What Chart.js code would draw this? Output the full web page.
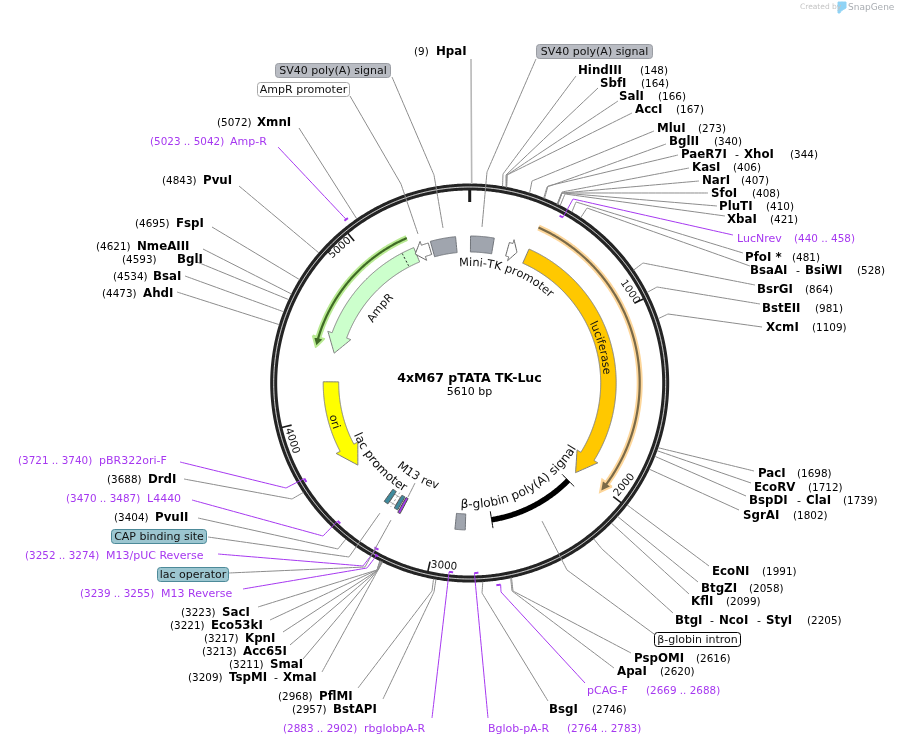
<!DOCTYPE html>
<html>
<head>
<meta charset="utf-8">
<script src="https://cdn.jsdelivr.net/npm/chart.js@4"></script>
<style>
html, body { margin: 0; padding: 0; background: #fff; }
canvas { display: block; }
</style>
</head>
<body>
<canvas id="map" width="897" height="745"></canvas>
<script>
const plasmidName = "4xM67 pTATA TK-Luc";
const plasmidLength = 5610;
const rulerTicks = [1000, 2000, 3000, 4000, 5000];

const enzymeNames = ["HpaI", "HindIII", "SbfI", "SalI", "AccI", "MluI", "BglII", "PaeR7I - XhoI", "KasI", "NarI", "SfoI", "PluTI", "XbaI", "PfoI *", "BsaAI - BsiWI", "BsrGI", "BstEII", "XcmI", "PacI", "EcoRV", "BspDI - ClaI", "SgrAI", "EcoNI", "BtgZI", "KflI", "BtgI - NcoI - StyI", "PspOMI", "ApaI", "BsgI", "BstAPI", "PflMI", "TspMI - XmaI", "SmaI", "Acc65I", "KpnI", "Eco53kI", "SacI", "PvuII", "DrdI", "AhdI", "BsaI", "BglI", "NmeAIII", "FspI", "PvuI", "XmnI"];
const enzymeSites = [9, 148, 164, 166, 167, 273, 340, 344, 406, 407, 408, 410, 421, 481, 528, 864, 981, 1109, 1698, 1712, 1739, 1802, 1991, 2058, 2099, 2205, 2616, 2620, 2746, 2957, 2968, 3209, 3211, 3213, 3217, 3221, 3223, 3404, 3688, 4473, 4534, 4593, 4621, 4695, 4843, 5072];

const primerNames = ["LucNrev", "pCAG-F", "Bglob-pA-R", "rbglobpA-R", "M13 Reverse", "M13/pUC Reverse", "L4440", "pBR322ori-F", "Amp-R"];
const primerStarts = [440, 2669, 2764, 2883, 3239, 3252, 3470, 3721, 5023];
const primerEnds = [458, 2688, 2783, 2902, 3255, 3274, 3487, 3740, 5042];

const arrowNames = ["luciferase", "AmpR", "ori"];
const arrowStarts = [372, 5260, 4215];
const arrowHeads = [1900, 4520, 3774];
const arrowTips = [2030, 4401, 3642];

const blockNames = ["Mini-TK promoter", "SV40 poly(A) signal", "β-globin poly(A) signal"];
const blockStarts = [5, 5368, 2832];
const blockEnds = [150, 5524, 2895];

const boxNames = ["SV40 poly(A) signal", "SV40 poly(A) signal", "AmpR promoter", "β-globin intron", "CAP binding site", "lac operator"];

// layout only: pixels on the 897x745 page
const CX = 469.7, CY = 383, RING_R = 196, LEADER_R = 199;
const GRAY = "#8c8c8c", PURPLE = "#a638f0", BLACK = "#000";
const FONT = '"DejaVu Sans", Verdana, sans-serif';

// [name x (or x of each name), site x, text y, leader start x, y, elbow x, y]
const enzymeLayout = [
  [436, 414, 51, 471, 59, null, null],
  [578, 640, 70, 576, 76, 503, 174],
  [600, 641, 83, 598, 88, 506, 175],
  [619, 658, 96, 618, 101, 507, 175],
  [635, 676, 109, 632, 113, 507, 175],
  [657, 698, 128, 654, 131, 532, 181],
  [669, 714, 141, 666, 144, 547, 187],
  [[681, 735], 790, 154, 678, 155, 548, 186],
  [692, 733, 167, 689, 168, 562, 192],
  [702, 741, 180, 699, 181, 562, 193],
  [711, 752, 193, 708, 193, 562, 193],
  [719, 766, 206, 717, 206, 562, 193],
  [727, 770, 219, 725, 216, 565, 194],
  [745, 792, 257, 743, 253, 576, 202],
  [[750, 796], 857, 270, 750, 266, 587, 208],
  [757, 805, 289, 755, 285, 643, 263],
  [762, 815, 308, 760, 304, 657, 287],
  [766, 812, 327, 762, 327, 668, 314],
  [758, 797, 473, 754, 471, null, null],
  [754, 808, 487, 751, 483, null, null],
  [[749, 797], 843, 500, 746, 496, null, null],
  [743, 793, 515, 739, 510, null, null],
  [712, 762, 571, 709, 566, null, null],
  [701, 749, 588, 698, 582, null, null],
  [691, 726, 601, 689, 594, null, null],
  [[675, 710, 757], 807, 620, 673, 613, 602, 549],
  [634, 696, 658, 631, 653, 513, 591],
  [617, 660, 671, 614, 668, 512, 591],
  [549, 592, 709, 548, 701, 482, 593],
  [333, 292, 709, 383, 699, 434, 592],
  [319, 278, 696, 358, 688, 432, 591],
  [[229, 274], 188, 677, 322, 672, 378, 570],
  [270, 229, 664, 303, 659, 378, 570],
  [243, 202, 651, 290, 645, 378, 570],
  [245, 204, 638, 283, 632, 378, 570],
  [211, 170, 625, 270, 620, 377, 570],
  [222, 181, 612, 258, 607, 377, 570],
  [155, 114, 517, 198, 518, 338, 549],
  [148, 107, 479, 184, 479, 292, 499],
  [143, 102, 293, 177, 292, null, null],
  [153, 113, 276, 185, 276, null, null],
  [177, 122, 259, 197, 262, null, null],
  [137, 96, 246, 203, 249, null, null],
  [176, 135, 223, 212, 227, null, null],
  [203, 162, 180, 239, 186, null, null],
  [257, 217, 122, 299, 128, null, null],
];

// [name x, range x, text y, leader start x, y, elbow x, y, mark radius, where the leader meets the mark 0..1]
const primerLayout = [
  [737, 794, 238, 733, 235, 573, 199, 190, 1],
  [587, 646, 690, 585, 683, 501, 592, 204, 0],
  [488, 567, 728, 488, 718, null, null, 190, 1],
  [364, 283, 728, 432, 718, null, null, 190, 1],
  [161, 80, 593, 243, 589, 367, 568, 196, 0.5],
  [106, 25, 555, 218, 554, 363, 566, 190, 0.5],
  [147, 66, 498, 192, 500, 323, 536, 191, 1],
  [99, 18, 460, 180, 462, 286, 488, 191, 1],
  [230, 150, 141, 278, 147, null, null, 205, 0.5],
];

// [left, right, y, fill, border, leader points]
const boxLayout = [
  [536, 652, 51, "#b9bcc3", "#9a9da3", [[536, 59], [487, 172], [482, 227]]],
  [275, 390, 70, "#b9bcc3", "#9a9da3", [[392, 77], [434, 175], [443, 228]]],
  [257, 349, 89, "#ffffff", "#a8a8a8", [[350, 96], [401, 184], [418, 234]]],
  [654, 740, 639, "#ffffff", "#000000", [[654, 634], [567, 570], [542, 521]]],
  [111, 206, 536, "#9cc6d0", "#4d8a99", [[208, 537], [349, 557], [380, 513]]],
  [157, 228, 574, "#9cc6d0", "#4d8a99", [[229, 573], [365, 567], [391, 520]]],
];

// [text, centre angle in bp, baseline radius, clockwise, font px]
const curvedLabels = [
  ["Mini-TK promoter", 291, 117, true, 11.4],
  ["luciferase", 1169, 134, true, 11],
  ["AmpR", 4831, 114, true, 11],
  ["β-globin poly(A) signal", 2381, 125, false, 12.2],
  ["ori", 3958, 144, false, 11],
  ["lac promoter", 3562, 127, false, 12],
  ["M13 rev", 3257, 111, false, 11.5],
];

// [x, y, rotation in degrees] of the ruler numbers
const rulerLayout = [[630, 292, 56], [624.5, 485, -50], [444, 566, 5], [292, 441, 72], [340, 248, -42]];

function polar(bp, r) {
  const a = (bp / plasmidLength) * 2 * Math.PI;
  return { x: CX + r * Math.sin(a), y: CY - r * Math.cos(a) };
}

function arc(from, to, r) {
  const n = Math.max(2, Math.ceil(Math.abs(to - from) / 12));
  const pts = [];
  for (let i = 0; i <= n; i++) pts.push(polar(from + ((to - from) * i) / n, r));
  return pts;
}

const datasets = [];

// tiny tension keeps Chart.js off its per-pixel fast path, which breaks near-vertical curves
function addLine(data, color, width, extra) {
  datasets.push(Object.assign({ data, borderColor: color, borderWidth: width, showLine: true, pointRadius: 0, tension: 0.0001, fill: false }, extra));
}

function addShape(points, fillColor, border, width) {
  addLine(points.concat([points[0]]), border, width, { fill: "shape", backgroundColor: fillColor, borderJoinStyle: "miter" });
}

function band(from, to, r1, r2) {
  return arc(from, to, r2).concat(arc(to, from, r1));
}

function arrow(start, head, tip, r1, r2, flare) {
  return arc(start, head, r2)
    .concat([polar(head, r2 + flare), polar(tip, (r1 + r2) / 2), polar(head, r1 - flare)])
    .concat(arc(head, start, r1));
}

function xy(p) {
  return { x: p[0], y: p[1] };
}

function addLeader(startX, startY, elbowX, elbowY, end, color, width) {
  const pts = [{ x: startX, y: startY }];
  if (elbowX !== null) pts.push({ x: elbowX, y: elbowY });
  pts.push(end);
  addLine(pts, color, width);
}

// outer ring
const fullCircle = arc(0, plasmidLength, RING_R);
addLine(fullCircle, "#242424", 7);
addLine(fullCircle, "#ffffff", 0.9);
addLine([polar(0, 193), polar(0, 181)], "#1a1a1a", 3);
rulerTicks.forEach((t) => addLine([polar(t, 193), polar(t, 183)], "#1a1a1a", 1.6));

// translated-style thin arcs above the big arrows
addLine(arc(372, 1985, 170), "#fdd69a", 6);
addShape([polar(1965, 176), polar(2025, 170), polar(1965, 164)], "#7a6a48", "#fdd69a", 2);
addLine(arc(372, 1975, 170), "#7a6a48", 2.2);
addLine(arc(5244, 4450, 158), "#b9ea93", 6);
addShape([polar(4470, 164), polar(4412, 158), polar(4470, 152)], "#3f6b25", "#b9ea93", 2);
addLine(arc(5244, 4460, 158), "#3f6b25", 2.2);

// big arrows
const arrowFills = ["#ffc800", "#ccffcc", "#ffff00"];
arrowNames.forEach((name, i) => {
  addShape(arrow(arrowStarts[i], arrowHeads[i], arrowTips[i], 131, 146.5, 4.5), arrowFills[i], "#7f7f7f", 1);
});
addLine([polar(5181, 132), polar(5181, 146)], "#222", 1, { borderDash: [2, 2] });

// small white arrows
addShape(arrow(5353, 5309, 5253, 134, 146, 4), "#ffffff", "#666", 1);
addShape(arrow(246, 268, 310, 132, 146, 4), "#ffffff", "#666", 1);

// grey blocks
blockNames.forEach((name, i) => {
  addShape(band(blockStarts[i], blockEnds[i], 131, 147), "#a0a5ae", "#70747a", 1);
});

// beta-globin poly(A) black arc and its end bars
addLine(arc(2099, 2663, 138.5), "#000", 5.5);
addLine([polar(2099, 130), polar(2099, 147)], "#000", 1);
addLine([polar(2663, 130), polar(2663, 147)], "#000", 1);

// lac region
addShape(band(3292, 3335, 134, 143), "#ffffff", "#999", 1);
addLine([polar(3312, 130), polar(3312, 147)], "#999", 1, { borderDash: [2, 2] });
addShape(band(3336, 3364, 131, 146), "#3f8a9c", "#555", 1);
addShape(band(3266, 3290, 131, 146), "#3f8a9c", "#555", 1);
addShape(band(3242, 3258, 131, 148), "#a638f0", "#444", 1);
addLine([{ x: 415, y: 483 }, { x: 408, y: 497 }], GRAY, 1);

// restriction site leaders
enzymeNames.forEach((name, i) => {
  const lay = enzymeLayout[i];
  const isHpa = name === "HpaI";
  addLeader(lay[3], lay[4], lay[5], lay[6], polar(enzymeSites[i], LEADER_R), isHpa ? "#b8b8b8" : GRAY, isHpa ? 1.6 : 1);
});

// primer leaders and marks
primerNames.forEach((name, i) => {
  const lay = primerLayout[i];
  const r = lay[7];
  const meet = primerStarts[i] + (primerEnds[i] - primerStarts[i]) * lay[8];
  addLeader(lay[3], lay[4], lay[5], lay[6], polar(meet, r), PURPLE, 1);
  addLine(arc(primerStarts[i], primerEnds[i], r), PURPLE, 2);
});

// boxed label leaders
boxLayout.forEach((lay) => addLine(lay[5].map(xy), GRAY, 1));

// SnapGene mark
addShape([{ x: 838, y: 2 }, { x: 846, y: 2 }, { x: 846, y: 8 }, { x: 841, y: 11 }, { x: 840, y: 13 }, { x: 838, y: 13 }], "#8fd3f5", "#8fd3f5", 1);

function drawCurved(ctx, text, bp, r, clockwise, toX, toY) {
  ctx.textAlign = "center";
  ctx.textBaseline = "alphabetic";
  const total = ctx.measureText(text).width;
  const centre = (bp / plasmidLength) * 2 * Math.PI;
  let run = -total / 2;
  for (const ch of text) {
    const w = ctx.measureText(ch).width;
    const off = (run + w / 2) / r;
    const a = clockwise ? centre + off : centre - off;
    ctx.save();
    ctx.translate(toX(CX + r * Math.sin(a)), toY(CY - r * Math.cos(a)));
    ctx.rotate(clockwise ? a : a + Math.PI);
    ctx.fillText(ch, 0, 0);
    ctx.restore();
    run += w;
  }
}

const textPlugin = {
  id: "mapText",
  afterDatasetsDraw(chart) {
    const ctx = chart.ctx;
    const toX = (v) => chart.scales.x.getPixelForValue(v);
    const toY = (v) => chart.scales.y.getPixelForValue(v);
    const regular = "11px " + FONT;
    const numbers = "10.4px " + FONT;
    const bold = "bold 11.8px " + FONT;

    const put = (text, x, y, font, color, align) => {
      ctx.font = font;
      ctx.fillStyle = color;
      ctx.textAlign = align || "left";
      ctx.textBaseline = "middle";
      ctx.fillText(text, toX(x), toY(y + 1));
    };

    ctx.save();
    put(plasmidName, 469.5, 378, "bold 12.5px " + FONT, "#000", "center");
    put(plasmidLength + " bp", 469.5, 391, regular, "#000", "center");

    enzymeNames.forEach((name, i) => {
      const lay = enzymeLayout[i];
      const parts = name.split(" - ");
      const xs = Array.isArray(lay[0]) ? lay[0] : [lay[0]];
      parts.forEach((part, k) => {
        if (k === 0) {
          put(part, xs[k], lay[2], bold, BLACK);
        } else {
          put("-", xs[k], lay[2], regular, BLACK);
          put(part, xs[k] + 9, lay[2], bold, BLACK);
        }
      });
      put("(" + enzymeSites[i] + ")", lay[1], lay[2], numbers, BLACK);
    });

    primerNames.forEach((name, i) => {
      const lay = primerLayout[i];
      put(name, lay[0], lay[2], regular, PURPLE);
      put("(" + primerStarts[i] + " .. " + primerEnds[i] + ")", lay[1], lay[2], numbers, PURPLE);
    });

    boxNames.forEach((name, i) => {
      const lay = boxLayout[i];
      ctx.beginPath();
      ctx.roundRect(toX(lay[0]) + 0.5, toY(lay[2] - 7) + 0.5, lay[1] - lay[0], 14, 3);
      ctx.fillStyle = lay[3];
      ctx.fill();
      ctx.strokeStyle = lay[4];
      ctx.lineWidth = 1;
      ctx.stroke();
      put(name, (lay[0] + lay[1]) / 2 + 0.5, lay[2], regular, "#111", "center");
    });

    ctx.fillStyle = "#111";
    curvedLabels.forEach((c) => {
      ctx.font = c[4] + "px " + FONT;
      drawCurved(ctx, c[0], c[1], c[2], c[3], toX, toY);
    });

    rulerTicks.forEach((t, i) => {
      const lay = rulerLayout[i];
      ctx.save();
      ctx.translate(toX(lay[0]), toY(lay[1]));
      ctx.rotate((lay[2] * Math.PI) / 180);
      ctx.font = numbers;
      ctx.fillStyle = "#111";
      ctx.textAlign = "center";
      ctx.textBaseline = "middle";
      ctx.fillText(String(t), 0, 0);
      ctx.restore();
    });

    put("Created by", 800, 6.5, "7.5px " + FONT, "#c4c4c4");
    put("SnapGene", 848, 6.5, "9px " + FONT, "#a9adb2");
    ctx.restore();
  },
};

// the first dataset is painted last, so flip to keep painter's order
new Chart(document.getElementById("map"), {
  type: "scatter",
  data: { datasets: datasets.reverse() },
  options: {
    responsive: false,
    animation: false,
    devicePixelRatio: 1,
    layout: { padding: 0 },
    plugins: { legend: { display: false }, tooltip: { enabled: false }, title: { display: false } },
    scales: {
      x: { type: "linear", min: 0, max: 897, display: false },
      y: { type: "linear", min: 0, max: 745, reverse: true, display: false },
    },
  },
  plugins: [textPlugin],
});
</script>
</body>
</html>
